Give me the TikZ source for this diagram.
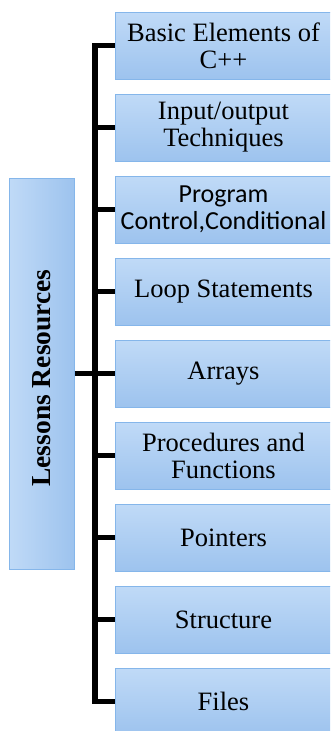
\documentclass[tikz,border=0pt]{standalone}
\usepackage{fontspec}
\setmainfont{Liberation Serif}
\newfontfamily\timesf{Liberation Serif}
\newfontfamily\calibri{Carlito}
\definecolor{topcol}{HTML}{C0DAF7}
\definecolor{botcol}{HTML}{9DC3EE}
\definecolor{bordercol}{HTML}{85B6EA}
\begin{document}
\begin{tikzpicture}[x=1pt,y=-1pt,
  item/.style={draw=bordercol, line width=1pt, top color=topcol, bottom color=botcol,
    minimum width=217pt, minimum height=67pt, inner sep=0pt, align=center,
    font=\timesf\fontsize{26.5}{27}\selectfont},
  itemc/.style={item, font=\calibri\fontsize{26}{27}\selectfont},
  root/.style={draw=bordercol, line width=1pt, left color=topcol, right color=botcol,
    minimum width=65pt, minimum height=391pt, inner sep=0pt,
    font=\timesf\fontsize{27.5}{28}\selectfont\bfseries},
  conn/.style={line width=5.5pt, black}]
\useasboundingbox (0,0) rectangle (330,731);
\clip (0,0) rectangle (330,731);
\node[root] (root) at (41.5,373.5) {\rotatebox{90}{Lessons Resources\hspace{9pt}}};
\node[item]  (b0) at (223.5,45.5)  {Basic Elements of\\C++};
\node[item]  (b1) at (223.5,127.5) {Input/output\\Techniques};
\node[itemc] (b2) at (223.5,209.5) {Program\\Control,Conditional};
\node[item]  (b3) at (223.5,291.5) {Loop Statements};
\node[item]  (b4) at (223.5,373.5) {Arrays};
\node[item]  (b5) at (223.5,455.5) {Procedures and\\Functions};
\node[item]  (b6) at (223.5,537.5) {Pointers};
\node[item]  (b7) at (223.5,619.5) {Structure};
\node[item]  (b8) at (223.5,701.5) {Files};
\coordinate (j) at (95,373.5);
\draw[conn] (root.east) -- (j);
\foreach \i in {0,...,8} {\draw[conn] (j) |- (b\i.west);}
\end{tikzpicture}
\end{document}
